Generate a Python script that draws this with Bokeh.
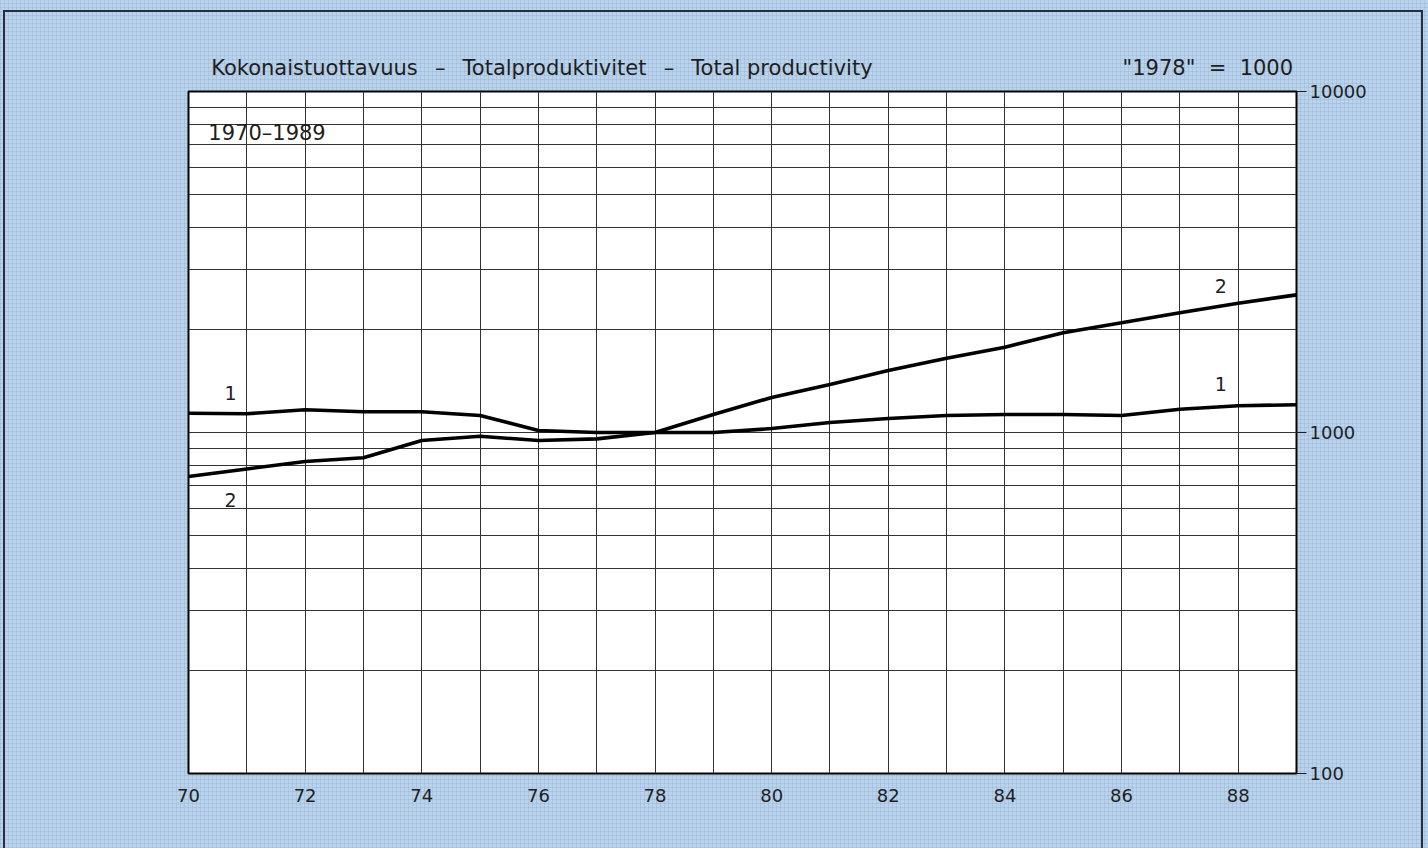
from bokeh.plotting import figure
from bokeh.models import FixedTicker, Label, Range1d, LinearAxis
from bokeh.embed import file_html
from bokeh.resources import INLINE

# ---- data ----
years = [70, 71, 72, 73, 74, 75, 76, 77, 78, 79, 80, 81, 82, 83, 84, 85, 86, 87, 88, 89]
series1 = [1139, 1135, 1166, 1150, 1150, 1122, 1014, 1000, 1000, 1000, 1027, 1070, 1099,
           1122, 1129, 1129, 1122, 1170, 1198, 1206]
series2 = [743, 782, 822, 843, 947, 975, 947, 958, 1000, 1129, 1267, 1383, 1520,
           1652, 1779, 1961, 2097, 2244, 2394, 2533]
x_tick_labels = ["70", "72", "74", "76", "78", "80", "82", "84", "86", "88"]
y_major = [100, 1000, 10000]
y_minor = [200, 300, 400, 500, 600, 700, 800, 900,
           2000, 3000, 4000, 5000, 6000, 7000, 8000, 9000]
title_text = ("Kokonaistuottavuus \u2002\u2013\u2002 Totalproduktivitet"
              " \u2002\u2013\u2002 Total productivity")
base_text = "\"1978\"\u00a0\u00a0=\u00a0\u00a01000"
period_text = "1970\u20131989"
header_pos = [76.06, 87.48]   # x centres of the two header texts

BG = "#bad3ec"
INK = "#1e1e1e"
FONT = "DejaVu Sans"

p = figure(width=1428, height=848, output_backend="svg", toolbar_location=None,
           y_axis_type="log", y_axis_location="right", title=None,
           x_range=Range1d(70, 89), y_range=Range1d(100, 10000),
           min_border_left=188, min_border_right=132,
           min_border_top=91, min_border_bottom=75)

p.background_fill_color = "white"
p.border_fill_color = None
p.outline_line_color = "black"
p.outline_line_width = 2

# x axis (below)
xb = p.below[0]
xb.ticker = FixedTicker(ticks=years)
xb.major_label_overrides = {y: (str(y) if str(y) in x_tick_labels else "") for y in years}
xb.axis_line_color = None
xb.major_tick_line_color = None
xb.minor_tick_line_color = None
xb.major_label_standoff = 9
xb.major_label_text_font = FONT
xb.major_label_text_font_size = "18px"
xb.major_label_text_color = INK

# header texts as an extra axis above the frame
xa = LinearAxis(ticker=FixedTicker(ticks=header_pos),
                major_label_overrides={header_pos[0]: title_text, header_pos[1]: base_text},
                axis_line_color=None, major_tick_line_color=None, minor_tick_line_color=None,
                major_label_standoff=6, major_label_text_font=FONT,
                major_label_text_font_size="21px", major_label_text_color=INK)
p.add_layout(xa, "above")

# y axis (right)
p.yaxis.ticker = FixedTicker(ticks=y_major, minor_ticks=y_minor)
p.yaxis.axis_line_color = None
p.yaxis.major_tick_line_color = INK
p.yaxis.major_tick_out = 10
p.yaxis.major_tick_in = 0
p.yaxis.minor_tick_line_color = None
p.yaxis.major_label_standoff = 3
p.yaxis.major_label_text_font = FONT
p.yaxis.major_label_text_font_size = "18px"
p.yaxis.major_label_text_color = INK
p.yaxis.major_label_overrides = {100: "100", 1000: "1000", 10000: "10000"}

# grids
p.xgrid.grid_line_color = "#333333"
p.xgrid.grid_line_width = 1
p.ygrid.grid_line_color = "#333333"
p.ygrid.grid_line_width = 1
p.ygrid.minor_grid_line_color = "#333333"
p.ygrid.minor_grid_line_width = 1

# lines
p.line(years, series1, line_color="black", line_width=3.6, line_join="round")
p.line(years, series2, line_color="black", line_width=3.6, line_join="round")

def lab(x, y, t, align="center", size="19px"):
    p.add_layout(Label(x=x, y=y, text=t, text_align=align, text_baseline="middle",
                       text_font=FONT, text_font_size=size, text_color=INK))

lab(70.34, 7535, period_text, align="left", size="21px")
lab(70.72, 1310, "1")
lab(70.72, 632, "2")
lab(87.70, 1392, "1")
lab(87.70, 2698, "2")

html = file_html(p, INLINE)
css = ("<style>html,body{background-color:%s;"
       "background-image:repeating-linear-gradient(0deg,rgba(120,150,190,0.22) 0 1px,transparent 1px 4px),"
       "repeating-linear-gradient(90deg,rgba(120,150,190,0.22) 0 1px,transparent 1px 4px);}</style>" % BG)
html = html.replace("</head>", css + "</head>", 1)
frame_div = ('<div style="position:fixed;left:3px;top:10px;width:1420px;height:850px;'
             'border:2px solid #26303c;box-sizing:border-box;pointer-events:none;"></div>')
html = html.replace("</body>", frame_div + "</body>", 1)
open("out.html", "w").write(html)
